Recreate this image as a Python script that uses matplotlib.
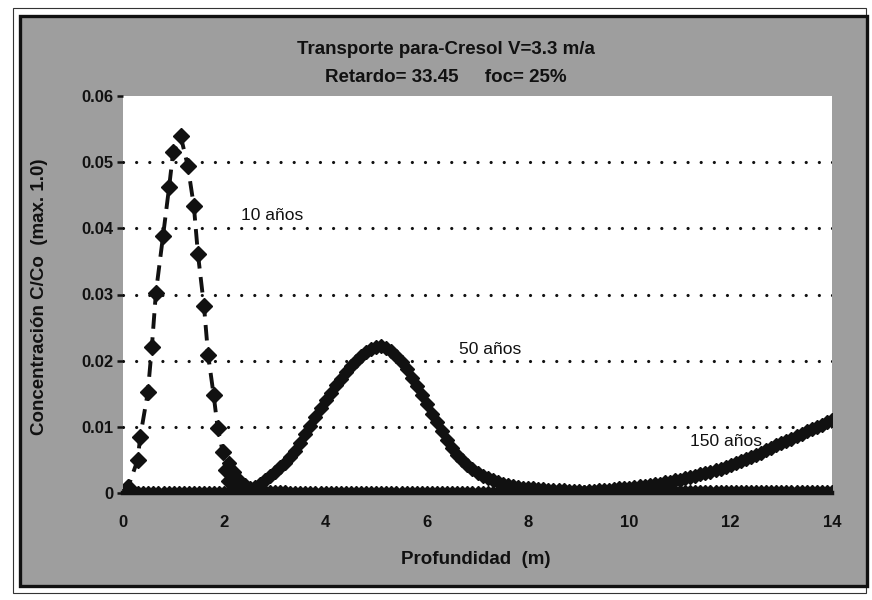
import numpy as np
import matplotlib
matplotlib.use("Agg")
import matplotlib.pyplot as plt
from matplotlib.patches import Rectangle

plt.rcParams['font.family'] = ['Liberation Sans', 'DejaVu Sans']

# ---- data -------------------------------------------------------------
# 10 años profile (depth in m, C/Co)
depth_10 = [0.0, 0.10, 0.29, 0.34, 0.49, 0.57, 0.65, 0.79, 0.91, 0.99, 1.14,
            1.28, 1.40, 1.48, 1.60, 1.68, 1.79, 1.87, 1.97, 2.03, 2.1, 2.2,
            2.3, 2.4, 2.5, 2.6, 2.7, 2.8, 2.9, 3.0, 3.1, 3.2]
conc_10 = [0.0, 0.0009, 0.0050, 0.0085, 0.0152, 0.0221, 0.0303, 0.0388,
           0.0462, 0.0515, 0.0539, 0.0494, 0.0433, 0.0361, 0.0282, 0.0209,
           0.0148, 0.0098, 0.0062, 0.0035, 0.0018, 0.0008, 0.0003, 0.0,
           0.0, 0.0, 0.0, 0.0, 0.0, 0.0, 0.0, 0.0]

# 50 años profile, depths 2.1 .. 14.0 m every 0.1 m
depth_50 = np.round(np.arange(21, 141) / 10.0, 1)
conc_50 = [
    0.0045, 0.0032, 0.0020, 0.0012, 0.0008, 0.0009, 0.0014, 0.0020, 0.0026,  # 2.1-2.9
    0.0032, 0.0039, 0.0046, 0.0055, 0.0064, 0.0076, 0.0089, 0.0102, 0.0115, 0.0128,  # 3.x
    0.0140, 0.0151, 0.0163, 0.0173, 0.0183, 0.0192, 0.0200, 0.0207, 0.0213, 0.0218,  # 4.x
    0.0221, 0.0222, 0.0219, 0.0214, 0.0207, 0.0198, 0.0187, 0.0174, 0.0161, 0.0148,  # 5.x
    0.0134, 0.0120, 0.0107, 0.0093, 0.0080, 0.0068, 0.0058, 0.0050, 0.0042, 0.0036,  # 6.x
    0.0030, 0.0026, 0.0022, 0.0019, 0.0016, 0.0014, 0.0012, 0.0011, 0.0009, 0.0008,  # 7.x
    0.0007, 0.0007, 0.0006, 0.0006, 0.0005, 0.0005, 0.0004, 0.0004, 0.0003, 0.0003,  # 8.x
    0.0003, 0.0002, 0.0002, 0.0002, 0.0002, 0.0002, 0.0002, 0.0002, 0.0002, 0.0002,  # 9.x
    0.0001, 0.0001, 0.0001, 0.0001, 0.0001, 0.0001, 0.0001, 0.0001, 0.0001, 0.0001,  # 10.x
    0.0001, 0.0001, 0.0001, 0.0001, 0.0001, 0.0001, 0.0001, 0.0001, 0.0001, 0.0001,  # 11.x
    0.0001, 0.0001, 0.0001, 0.0001, 0.0001, 0.0001, 0.0001, 0.0001, 0.0001, 0.0001,  # 12.x
    0.0001, 0.0001, 0.0001, 0.0001, 0.0001, 0.0001, 0.0001, 0.0001, 0.0001, 0.0001,  # 13.x
    0.0001,                                                                          # 14.0
]

# 150 años profile, depths 0.0 .. 14.0 m every 0.1 m
depth_150 = np.round(np.arange(0, 141) / 10.0, 1)
conc_150 = [
    0.0, 0.0, 0.0, 0.0, 0.0, 0.0, 0.0, 0.0, 0.0, 0.0,                                # 0.x
    0.0, 0.0, 0.0, 0.0, 0.0, 0.0, 0.0, 0.0, 0.0, 0.0,                                # 1.x
    0.0, 0.0, 0.0, 0.0, 0.0, 0.0, 0.0, 0.0, 0.0, 0.0,                                # 2.x
    0.0, 0.0, 0.0, 0.0, 0.0, 0.0, 0.0, 0.0, 0.0, 0.0,                                # 3.x
    0.0, 0.0, 0.0, 0.0, 0.0, 0.0, 0.0, 0.0, 0.0, 0.0,                                # 4.x
    0.0, 0.0, 0.0, 0.0, 0.0, 0.0, 0.0, 0.0, 0.0, 0.0,                                # 5.x
    0.0, 0.0, 0.0, 0.0, 0.0, 0.0, 0.0, 0.0, 0.0, 0.0,                                # 6.x
    0.0, 0.0, 0.0, 0.0, 0.0, 0.0, 0.0, 0.0, 0.0, 0.0,                                # 7.x
    0.0, 0.0, 0.0, 0.0, 0.0, 0.0001, 0.0001, 0.0001, 0.0001, 0.0002,                 # 8.x
    0.0002, 0.0002, 0.0003, 0.0003, 0.0004, 0.0004, 0.0005, 0.0006, 0.0007, 0.0007,  # 9.x
    0.0008, 0.0009, 0.0010, 0.0011, 0.0012, 0.0013, 0.0014, 0.0016, 0.0017, 0.0019,  # 10.x
    0.0020, 0.0022, 0.0024, 0.0026, 0.0028, 0.0030, 0.0032, 0.0035, 0.0037, 0.0040,  # 11.x
    0.0043, 0.0046, 0.0049, 0.0052, 0.0055, 0.0058, 0.0061, 0.0065, 0.0068, 0.0072,  # 12.x
    0.0075, 0.0079, 0.0082, 0.0086, 0.0089, 0.0093, 0.0096, 0.0100, 0.0103, 0.0107,  # 13.x
    0.0110,                                                                          # 14.0
]

x_ticks = [0, 2, 4, 6, 8, 10, 12, 14]
y_ticks = [0, 0.01, 0.02, 0.03, 0.04, 0.05, 0.06]
y_tick_labels = ['0', '0.01', '0.02', '0.03', '0.04', '0.05', '0.06']
grid_levels = [0.01, 0.02, 0.03, 0.04, 0.05]

title_1 = 'Transporte para-Cresol V=3.3 m/a'
title_2 = 'Retardo= 33.45     foc= 25%'
x_label = 'Profundidad  (m)'
y_label = 'Concentración C/Co  (max. 1.0)'

labels = ['10 años', '50 años', '150 años']
label_pos = [(2.33, 0.0419), (6.64, 0.0217), (11.2, 0.0078)]

# ---- figure -----------------------------------------------------------
W, H = 872, 600
fig = plt.figure(figsize=(W / 100, H / 100), dpi=100, facecolor='white')

# grey backdrop panel behind the plot area, with an outer frame
bg = fig.add_axes([0, 0, 1, 1], zorder=-10)
bg.set_xlim(0, W)
bg.set_ylim(H, 0)
bg.axis('off')
bg.add_patch(Rectangle((13, 8), 853, 585, facecolor='none',
                       edgecolor='#333333', lw=0.8))
bg.add_patch(Rectangle((20, 16), 847, 570, facecolor='#9e9e9e',
                       edgecolor='#111111', lw=2.4))

ax = fig.add_axes([123 / W, 1 - 493 / H, (832 - 123) / W, (493 - 96) / H],
                  zorder=1)
ax.set_facecolor('white')
ax.set_xlim(0, 14)
ax.set_ylim(0, 0.06)

for lev in grid_levels:
    ax.axhline(lev, color='#111111', lw=2.3, linestyle=(0, (0.01, 4.1)),
               dash_capstyle='round', zorder=1)

ax.plot(depth_10, conc_10, color='#111111', lw=2.8, linestyle=(0, (4.0, 2.2)),
        marker='D', markersize=8.5, zorder=4)
ax.plot(depth_50, conc_50, color='#111111', lw=3.0, marker='D',
        markersize=7, zorder=3)
ax.plot(depth_150, conc_150, color='#111111', lw=3.0, marker='D',
        markersize=7, zorder=3)

for txt, (tx, ty) in zip(labels, label_pos):
    ax.text(tx, ty, txt, fontsize=12.5, color='#111111', va='center',
            ha='left', zorder=5)

for s in ['left', 'right', 'top']:
    ax.spines[s].set_visible(False)
ax.spines['bottom'].set_linewidth(3.2)
ax.spines['bottom'].set_color('#111111')

ax.set_xticks(x_ticks)
ax.set_xticklabels([str(v) for v in x_ticks])
ax.set_yticks(y_ticks)
ax.set_yticklabels(y_tick_labels)
ax.tick_params(axis='x', direction='in', length=3, width=1.2, pad=16,
               labelsize=12, colors='#111111')
ax.tick_params(axis='y', direction='out', length=4.5, width=1.8, pad=2.5,
               labelsize=12, colors='#111111')
for lab in ax.get_xticklabels() + ax.get_yticklabels():
    lab.set_fontweight('bold')

fig.text(446 / W, 1 - 50 / H, title_1, ha='center', va='center',
         fontsize=13.5, fontweight='bold', color='#111111')
fig.text(446 / W, 1 - 77 / H, title_2, ha='center', va='center',
         fontsize=13.5, fontweight='bold', color='#111111')
fig.text(476 / W, 1 - 560 / H, x_label, ha='center', va='center',
         fontsize=13.5, fontweight='bold', color='#111111')
fig.text(40 / W, 1 - 297 / H, y_label, ha='center', va='center',
         rotation=90, fontsize=13.5, fontweight='bold', color='#111111')

fig.savefig('out.png', dpi=100, facecolor=fig.get_facecolor())
